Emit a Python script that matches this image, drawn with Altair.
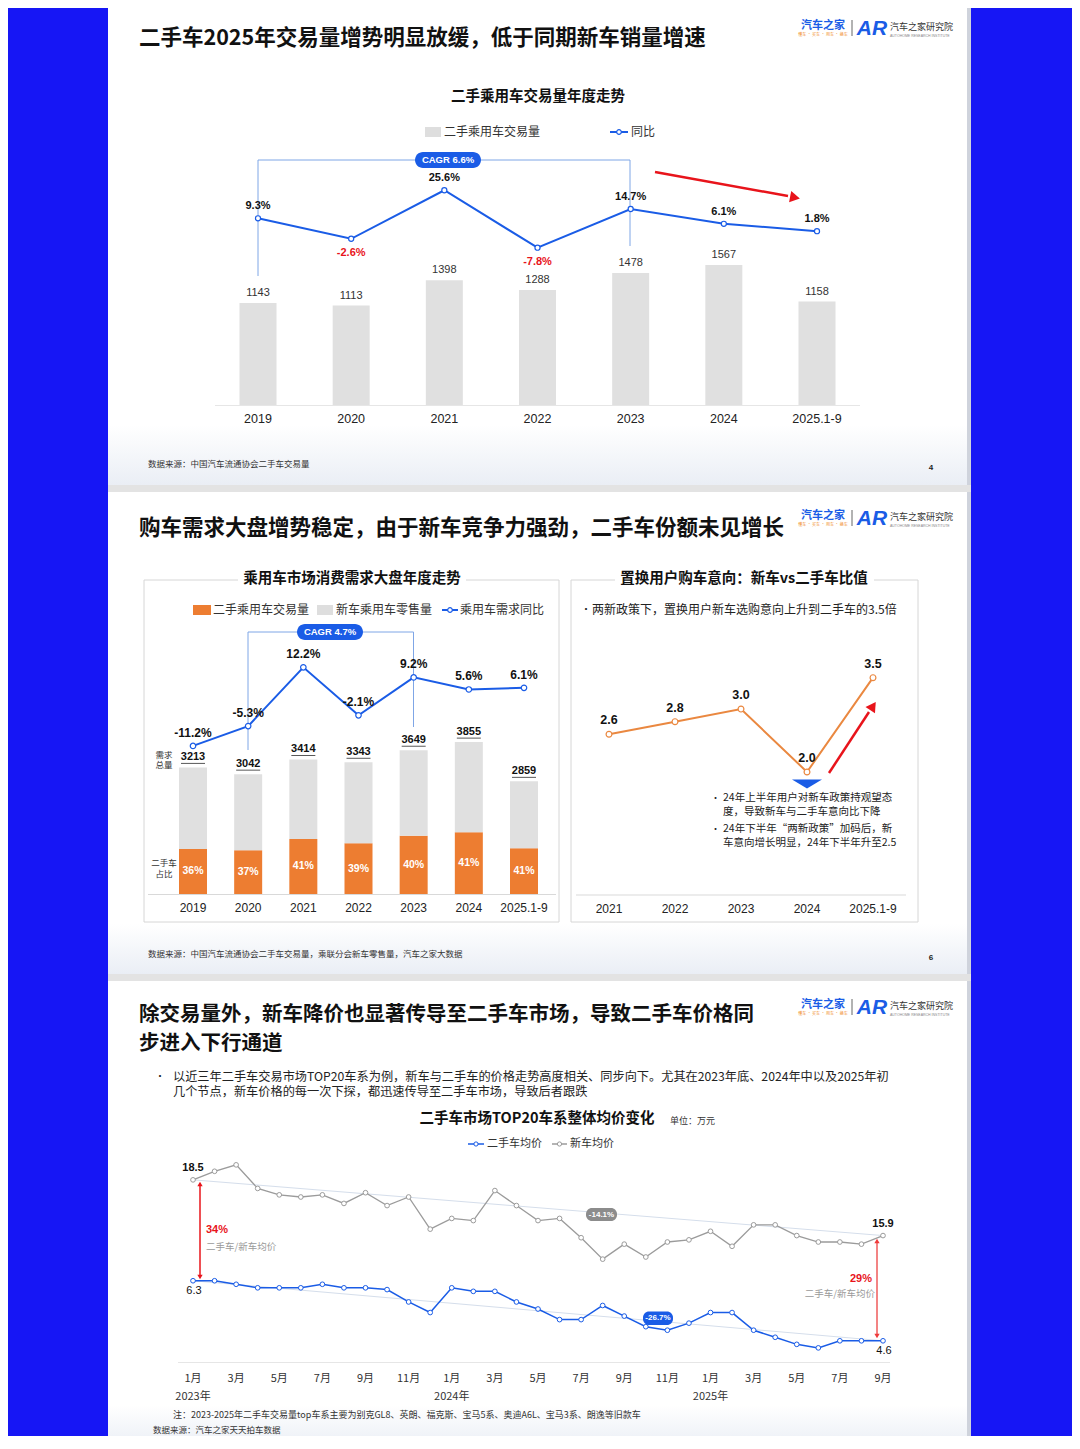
import altair as alt
import pandas as pd

# ---------------- data ----------------
years_a = ["2019", "2020", "2021", "2022", "2023", "2024", "2025.1-9"]
used_volume = [1143, 1113, 1398, 1288, 1478, 1567, 1158]
used_yoy = [9.3, -2.6, 25.6, -7.8, 14.7, 6.1, 1.8]

total_demand = [3213, 3042, 3414, 3343, 3649, 3855, 2859]
new_retail = [2070, 1929, 2016, 2055, 2171, 2288, 1701]
used_share_label = ["36%", "37%", "41%", "39%", "40%", "41%", "41%"]
demand_yoy = [-11.2, -5.3, 12.2, -2.1, 9.2, 5.6, 6.1]

years_b = ["2021", "2022", "2023", "2024", "2025.1-9"]
new_vs_used_ratio = [2.6, 2.8, 3.0, 2.0, 3.5]

months = ["2023-01", "2023-02", "2023-03", "2023-04", "2023-05", "2023-06",
          "2023-07", "2023-08", "2023-09", "2023-10", "2023-11", "2023-12",
          "2024-01", "2024-02", "2024-03", "2024-04", "2024-05", "2024-06",
          "2024-07", "2024-08", "2024-09", "2024-10", "2024-11", "2024-12",
          "2025-01", "2025-02", "2025-03", "2025-04", "2025-05", "2025-06",
          "2025-07", "2025-08", "2025-09"]
used_price = [6.3, 6.3, 6.2, 6.1, 6.1, 6.1, 6.2, 6.1, 6.1, 6.05, 5.7, 5.4,
              6.1, 6.0, 6.0, 5.7, 5.5, 5.2, 5.2, 5.6, 5.3, 5.0, 4.9, 5.1,
              5.4, 5.4, 4.9, 4.7, 4.5, 4.4, 4.6, 4.6, 4.6]
new_price = [18.5, 18.9, 19.2, 18.1, 17.8, 17.7, 17.8, 17.4, 17.9, 17.3, 17.7, 16.2,
             16.7, 16.6, 18.0, 17.3, 16.6, 16.7, 15.8, 14.8, 15.5, 14.9, 15.6, 15.7,
             16.1, 15.4, 16.4, 16.4, 15.9, 15.6, 15.6, 15.5, 15.9]

# ---------------- style ----------------
W, H = 1064, 1428
OFF = 8
BG = "#1616f5"
BLUE = "#1a5ce6"
ORANGE = "#ed7d31"
LINE_OR = "#ea8840"
GRAY_BAR = "#e0e0e0"
RED = "#e8141b"
F_CN = "Noto Sans CJK SC"
F_NUM = "Liberation Sans"
PCT = "(datum.v < 0 ? '-' : '') + format(abs(datum.v), '.1f') + '%'"


def X(v):
    return v - OFF


def Y(v):
    return v - OFF


ONE = pd.DataFrame({"k": [0]})
layers = []


def add(c):
    layers.append(c)


def box(x1, y1, x2, y2, **kw):
    add(alt.Chart(ONE).mark_rect(**kw).encode(
        x=alt.value(X(x1)), x2=alt.value(X(x2)), y=alt.value(Y(y1)), y2=alt.value(Y(y2))))


def seg(x1, y1, x2, y2, color, width=1.0, **kw):
    add(alt.Chart(ONE).mark_rule(color=color, strokeWidth=width, **kw).encode(
        x=alt.value(X(x1)), y=alt.value(Y(y1)), x2=alt.value(X(x2)), y2=alt.value(Y(y2))))


def label(x, y, s, size=12, color="#222222", weight="normal", align="left", font=F_CN,
          baseline="middle", **kw):
    add(alt.Chart(ONE).mark_text(text=s, fontSize=size, color=color, fontWeight=weight,
                                 align=align, baseline=baseline, font=font, **kw).encode(
        x=alt.value(X(x)), y=alt.value(Y(y))))


def symbol(x, y, shape, size, angle=0, **kw):
    add(alt.Chart(ONE).mark_point(shape=shape, size=size, angle=angle, opacity=1, **kw).encode(
        x=alt.value(X(x)), y=alt.value(Y(y))))


def band(domain, c0, c1, bw):
    n = len(domain)
    step = (c1 - c0) / (n - 1)
    pi = 1 - bw / step
    return alt.Scale(type="band", domain=domain, range=[X(c0 - step / 2), X(c1 + step / 2)],
                     paddingInner=pi, paddingOuter=pi / 2)


def logo(y0):
    label(823, y0 - 2, "汽车之家", size=11, color=BLUE, weight="bold", align="center")
    label(823, y0 + 7, "懂车 · 买车 · 用车 · 换车", size=4, color="#f08a24", align="center")
    seg(852, y0 - 8, 852, y0 + 8, "#666666", 1)
    label(872, y0 + 1, "AR", size=21, color=BLUE, weight="bold", align="center",
          font=F_NUM, fontStyle="italic")
    label(890, y0 - 1, "汽车之家研究院", size=9, color="#333333")
    label(890, y0 + 8, "AUTOHOME RESEARCH INSTITUTE", size=3.5, color="#888888", font=F_NUM)


footer_grad = alt.LinearGradient(gradient="linear",
                                 stops=[alt.GradientStop(color="#ffffff", offset=0),
                                        alt.GradientStop(color="#eaeef5", offset=1)],
                                 x1=0, x2=0, y1=0, y2=1)

# ---------------- slide backgrounds ----------------
for top, bottom in [(0, 485), (492, 974), (981, 1449)]:
    box(108, top, 967, bottom, fill="#ffffff")
    box(967, top, 971, bottom, fill="#cfd3dc")
box(108, 0, 967, 2, fill="#d0d0d0")
box(108, 485, 971, 492, fill="#e3e3e3")
box(108, 974, 971, 981, fill="#e3e3e3")
box(108, 425, 967, 485, fill=footer_grad)
box(108, 924, 967, 974, fill=footer_grad)
box(108, 1405, 967, 1449, fill=footer_grad)

# ================= slide 1 =================
label(139, 39, "二手车2025年交易量增势明显放缓，低于同期新车销量增速", size=21.5, weight="bold", color="#111111")
logo(28)
label(538, 97, "二手乘用车交易量年度走势", size=14.5, weight="bold", align="center", color="#111111")
box(425, 127, 441, 137, fill="#dedede")
label(444, 132, "二手乘用车交易量", size=12, color="#333333")
seg(610, 132, 628, 132, BLUE, 2)
symbol(619, 132, "circle", 22, filled=True, fill="white", stroke=BLUE, strokeWidth=1.2)
label(631, 132, "同比", size=12, color="#333333")

df1 = pd.DataFrame({"year": years_a, "vol": used_volume, "yoy": used_yoy})
xs1 = band(years_a, 258, 817, 37)
ys1 = alt.Scale(domain=[0, 2000], range=[Y(405), Y(405 - 2000 * 0.0893)], nice=False, zero=False)
yl1 = alt.Scale(domain=[-10, 30], range=[Y(251.5), Y(182.7)], nice=False, zero=False)
xe1 = alt.X("year:N", scale=xs1, axis=None)
c1 = alt.Chart(df1)

seg(215, 405.5, 860, 405.5, "#e6e6e6", 1)
add(c1.mark_bar(color=GRAY_BAR).transform_calculate(base="0").encode(
    x=xe1, y=alt.Y("vol:Q", scale=ys1, axis=None), y2="base:Q"))
add(c1.mark_text(dy=-10, fontSize=11, color="#333333", font=F_NUM).encode(
    x=xe1, y=alt.Y("vol:Q", scale=ys1, axis=None), text="vol:Q"))
add(c1.mark_text(fontSize=12.5, color="#222222", font=F_NUM, baseline="middle").encode(
    x=xe1, y=alt.value(Y(419)), text="year:N"))

# CAGR bracket
seg(258, 160, 258, 276, "#7fa6e6", 1)
seg(258, 160, 630, 160, "#7fa6e6", 1)
seg(630, 160, 630, 246, "#7fa6e6", 1)
box(415, 152, 481, 168, fill=BLUE, cornerRadius=8)
label(448, 160, "CAGR 6.6%", size=9.5, color="white", weight="bold", align="center", font=F_NUM)

add(c1.mark_line(color=BLUE, strokeWidth=2).encode(x=xe1, y=alt.Y("yoy:Q", scale=yl1, axis=None)))
add(c1.mark_point(filled=True, fill="white", stroke=BLUE, strokeWidth=1.2, size=26, opacity=1).encode(
    x=xe1, y=alt.Y("yoy:Q", scale=yl1, axis=None)))
add(c1.transform_filter("datum.yoy >= 0").transform_calculate(v="datum.yoy").transform_calculate(lbl=PCT)
    .mark_text(dy=-12, fontSize=11, fontWeight="bold", color="#111111", font=F_NUM).encode(
    x=xe1, y=alt.Y("yoy:Q", scale=yl1, axis=None), text="lbl:N"))
add(c1.transform_filter("datum.yoy < 0").transform_calculate(v="datum.yoy").transform_calculate(lbl=PCT)
    .mark_text(dy=14, fontSize=11, fontWeight="bold", color=RED, font=F_NUM).encode(
    x=xe1, y=alt.Y("yoy:Q", scale=yl1, axis=None), text="lbl:N"))

# red arrow
seg(655, 172, 788, 196, RED, 2.5)
symbol(795, 197.5, "triangle-right", 130, angle=11, filled=True, color=RED)

label(148, 464, "数据来源：中国汽车流通协会二手车交易量", size=8.5, color="#333333")
label(931, 468, "4", size=8, weight="bold", align="center", font=F_NUM)

# ================= slide 2 =================
label(139, 529, "购车需求大盘增势稳定，由于新车竞争力强劲，二手车份额未见增长", size=21.5, weight="bold", color="#111111")
logo(518)

# left panel
box(144, 580, 559, 922, fillOpacity=0, stroke="#d6d6d6", strokeWidth=1)
box(238, 572, 466, 588, fill="white")
label(352, 579, "乘用车市场消费需求大盘年度走势", size=14.5, weight="bold", align="center", color="#111111")
box(193, 605, 211, 615, fill=ORANGE)
label(213, 610, "二手乘用车交易量", size=12, color="#333333")
box(317, 605, 333, 615, fill="#dedede")
label(336, 610, "新车乘用车零售量", size=12, color="#333333")
seg(442, 610, 458, 610, BLUE, 2)
symbol(450, 610, "circle", 22, filled=True, fill="white", stroke=BLUE, strokeWidth=1.2)
label(460, 610, "乘用车需求同比", size=12, color="#333333")

df2 = pd.DataFrame({"year": years_a, "total": total_demand, "new": new_retail,
                    "used": used_volume, "share": used_share_label, "yoy": demand_yoy})
xs2 = band(years_a, 193, 524, 28)
ys2 = alt.Scale(domain=[0, 4000], range=[Y(894), Y(894 - 4000 * 0.0394)], nice=False, zero=False)
yl2 = alt.Scale(domain=[-15, 15], range=[Y(758.7), Y(657.9)], nice=False, zero=False)
xe2 = alt.X("year:N", scale=xs2, axis=None)
c2 = alt.Chart(df2)

add(c2.mark_bar(color=ORANGE).transform_calculate(base="0").encode(
    x=xe2, y=alt.Y("used:Q", scale=ys2, axis=None), y2="base:Q"))
add(c2.mark_bar(color=GRAY_BAR).encode(
    x=xe2, y=alt.Y("used:Q", scale=ys2, axis=None), y2="total:Q"))
add(c2.transform_calculate(mid="datum.used / 2").mark_text(
    fontSize=10.5, fontWeight="bold", color="white", font=F_NUM, baseline="middle").encode(
    x=xe2, y=alt.Y("mid:Q", scale=ys2, axis=None), text="share:N"))
add(c2.mark_text(dy=-10, fontSize=11, fontWeight="bold", color="#111111", font=F_NUM,
                 baseline="middle").encode(
    x=xe2, y=alt.Y("total:Q", scale=ys2, axis=None), text="total:Q"))
add(c2.mark_tick(orient="horizontal", size=24, thickness=1, yOffset=-4, color="#111111").encode(
    x=xe2, y=alt.Y("total:Q", scale=ys2, axis=None)))
seg(148, 894.5, 556, 894.5, "#d9d9d9", 1)
add(c2.mark_text(fontSize=12, color="#222222", font=F_NUM, baseline="middle").encode(
    x=xe2, y=alt.value(Y(908)), text="year:N"))
label(164, 755, "需求", size=8.5, color="#333333", align="center")
label(164, 765, "总量", size=8.5, color="#333333", align="center")
label(164, 863, "二手车", size=8.5, color="#333333", align="center")
label(164, 874, "占比", size=8.5, color="#333333", align="center")

seg(248, 632, 248, 750, "#7fa6e6", 1)
seg(248, 632, 413.5, 632, "#7fa6e6", 1)
seg(413.5, 632, 413.5, 727, "#7fa6e6", 1)
box(297, 624, 363, 640, fill=BLUE, cornerRadius=8)
label(330, 632, "CAGR 4.7%", size=9.5, color="white", weight="bold", align="center", font=F_NUM)

add(c2.mark_line(color=BLUE, strokeWidth=2).encode(x=xe2, y=alt.Y("yoy:Q", scale=yl2, axis=None)))
add(c2.mark_point(filled=True, fill="white", stroke=BLUE, strokeWidth=1.2, size=30, opacity=1).encode(
    x=xe2, y=alt.Y("yoy:Q", scale=yl2, axis=None)))
add(c2.transform_calculate(v="datum.yoy").transform_calculate(lbl=PCT).mark_text(
    dy=-13, fontSize=12, fontWeight="bold", color="#111111", font=F_NUM).encode(
    x=xe2, y=alt.Y("yoy:Q", scale=yl2, axis=None), text="lbl:N"))

# right panel
box(571, 580, 918, 922, fillOpacity=0, stroke="#d6d6d6", strokeWidth=1)
box(615, 572, 874, 588, fill="white")
label(744, 579, "置换用户购车意向：新车vs二手车比值", size=14.5, weight="bold", align="center", color="#111111")
label(581, 610, "•", size=10, color="#222222")
label(592, 610, "两新政策下，置换用户新车选购意向上升到二手车的3.5倍", size=12, color="#222222")

df3 = pd.DataFrame({"year": years_b, "ratio": new_vs_used_ratio})
xs3 = band(years_b, 609, 873, 30)
ys3 = alt.Scale(domain=[1.5, 4], range=[Y(803.4), Y(646.2)], nice=False, zero=False)
xe3 = alt.X("year:N", scale=xs3, axis=None)
c3 = alt.Chart(df3)

seg(576, 895, 906, 895, "#d9d9d9", 1)
add(c3.mark_text(fontSize=12, color="#222222", font=F_NUM, baseline="middle").encode(
    x=xe3, y=alt.value(Y(909)), text="year:N"))
add(c3.mark_line(color=LINE_OR, strokeWidth=2).encode(x=xe3, y=alt.Y("ratio:Q", scale=ys3, axis=None)))
add(c3.mark_point(filled=True, fill="white", stroke=LINE_OR, strokeWidth=1.2, size=34, opacity=1).encode(
    x=xe3, y=alt.Y("ratio:Q", scale=ys3, axis=None)))
add(c3.mark_text(dy=-14, fontSize=12.5, fontWeight="bold", color="#111111", font=F_NUM).encode(
    x=xe3, y=alt.Y("ratio:Q", scale=ys3, axis=None), text=alt.Text("ratio:Q", format=".1f")))

symbol(807, 784, "M -1 -0.3 L 1 -0.3 L 0 0.3 Z", 900, filled=True, color=BLUE)
seg(829, 773, 869, 712, RED, 2.5)
symbol(873, 706, "triangle-right", 130, angle=304, filled=True, color=RED)

label(711, 798, "•", size=9, color="#222222")
label(723, 798, "24年上半年用户对新车政策持观望态", size=10.5, color="#222222")
label(723, 812, "度，导致新车与二手车意向比下降", size=10.5, color="#222222")
label(711, 829, "•", size=9, color="#222222")
label(723, 829, "24年下半年“两新政策”加码后，新", size=10.5, color="#222222")
label(723, 843, "车意向增长明显，24年下半年升至2.5", size=10.5, color="#222222")

label(148, 954, "数据来源：中国汽车流通协会二手车交易量，乘联分会新车零售量，汽车之家大数据", size=8.5, color="#333333")
label(931, 958, "6", size=8, weight="bold", align="center", font=F_NUM)

# ================= slide 3 =================
label(139, 1005, ["除交易量外，新车降价也显著传导至二手车市场，导致二手车价格同", "步进入下行通道"],
      size=20.5, weight="bold", color="#111111", baseline="top", lineHeight=29)
logo(1007)
label(155, 1077, "•", size=10, color="#222222")
label(173, 1076.5, "以近三年二手车交易市场TOP20车系为例，新车与二手车的价格走势高度相关、同步向下。尤其在2023年底、2024年中以及2025年初",
      size=12.2, color="#222222")
label(173, 1092, "几个节点，新车价格的每一次下探，都迅速传导至二手车市场，导致后者跟跌", size=12.2, color="#222222")
label(537, 1119, "二手车市场TOP20车系整体均价变化", size=14.5, weight="bold", align="center", color="#111111")
label(670, 1121, "单位：万元", size=9, color="#333333")

seg(468, 1144, 484, 1144, BLUE, 1.5)
symbol(476, 1144, "circle", 18, filled=True, fill="white", stroke=BLUE, strokeWidth=1)
label(487, 1144, "二手车均价", size=11, color="#333333")
seg(552, 1144, 567, 1144, "#9b9b9b", 1.5)
symbol(559.5, 1144, "circle", 18, filled=True, fill="white", stroke="#9b9b9b", strokeWidth=1)
label(570, 1144, "新车均价", size=11, color="#333333")

df4 = pd.DataFrame({"month": months, "used": used_price, "new": new_price})
xs4 = alt.Scale(type="point", domain=months, range=[X(193), X(883)], padding=0)
yg4 = alt.Scale(domain=[10, 19.66], range=[Y(1362), Y(1155)], nice=False, zero=False)
yb4 = alt.Scale(domain=[4, 9.86], range=[Y(1362), Y(1155)], nice=False, zero=False)
xe4 = alt.X("month:N", scale=xs4, axis=None)
c4 = alt.Chart(df4)
ends = c4.transform_filter(alt.FieldOneOfPredicate(field="month", oneOf=[months[0], months[-1]]))

seg(178, 1362.5, 890, 1362.5, "#e6e6e6", 1)
add(ends.mark_line(color="#d5deeb", strokeWidth=1).encode(x=xe4, y=alt.Y("new:Q", scale=yg4, axis=None)))
add(ends.mark_line(color="#d5deeb", strokeWidth=1).encode(x=xe4, y=alt.Y("used:Q", scale=yb4, axis=None)))
add(c4.mark_line(color="#9b9b9b", strokeWidth=1.3).encode(x=xe4, y=alt.Y("new:Q", scale=yg4, axis=None)))
add(c4.mark_point(filled=True, fill="white", stroke="#9b9b9b", strokeWidth=1, size=22, opacity=1).encode(
    x=xe4, y=alt.Y("new:Q", scale=yg4, axis=None)))
add(c4.mark_line(color=BLUE, strokeWidth=1.5).encode(x=xe4, y=alt.Y("used:Q", scale=yb4, axis=None)))
add(c4.mark_point(filled=True, fill="white", stroke=BLUE, strokeWidth=1, size=22, opacity=1).encode(
    x=xe4, y=alt.Y("used:Q", scale=yb4, axis=None)))
add(ends.mark_text(dy=-12, fontSize=11, fontWeight="bold", color="#111111", font=F_NUM).encode(
    x=xe4, y=alt.Y("new:Q", scale=yg4, axis=None), text=alt.Text("new:Q", format=".1f")))
add(ends.mark_text(dy=10, dx=1, fontSize=11, color="#111111", font=F_NUM).encode(
    x=xe4, y=alt.Y("used:Q", scale=yb4, axis=None), text=alt.Text("used:Q", format=".1f")))

add(c4.transform_calculate(m="parseInt(substring(datum.month, 5))")
    .transform_filter("datum.m % 2 == 1")
    .transform_calculate(lbl="datum.m + '月'")
    .mark_text(fontSize=11, color="#333333", font=F_CN, baseline="middle").encode(
    x=xe4, y=alt.value(Y(1379)), text="lbl:N"))
add(c4.transform_filter("substring(datum.month, 5) == '01'")
    .transform_calculate(lbl="substring(datum.month, 0, 4) + '年'")
    .mark_text(fontSize=11, color="#333333", font=F_CN, baseline="middle").encode(
    x=xe4, y=alt.value(Y(1397)), text="lbl:N"))

# gap arrows and notes
seg(200, 1184, 200, 1277, RED, 1.5)
symbol(200, 1184, "triangle-up", 28, filled=True, color=RED)
symbol(200, 1277, "triangle-down", 28, filled=True, color=RED)
label(206, 1230, "34%", size=11, weight="bold", color=RED, font=F_NUM)
label(206, 1247, "二手车/新车均价", size=9.5, color="#9a9a9a")
seg(877, 1241, 877, 1336, "#ef5b5b", 1.5)
symbol(877, 1241, "triangle-up", 28, filled=True, color="#ef3b3b")
symbol(877, 1336, "triangle-down", 28, filled=True, color="#ef3b3b")
label(861, 1279, "29%", size=11, weight="bold", color=RED, align="center", font=F_NUM)
label(875, 1294, "二手车/新车均价", size=9.5, color="#9a9a9a", align="right")

box(586, 1208, 617, 1221, fill="#8c8c8c", cornerRadius=6)
label(601.5, 1214.5, "-14.1%", size=8, weight="bold", color="white", align="center", font=F_NUM)
box(643, 1311.5, 673, 1325, fill=BLUE, cornerRadius=6)
label(658, 1318.3, "-26.7%", size=8, weight="bold", color="white", align="center", font=F_NUM)

label(173, 1415, "注：2023-2025年二手车交易量top车系主要为别克GL8、英朗、福克斯、宝马5系、奥迪A6L、宝马3系、朗逸等旧款车",
      size=9, color="#333333")
label(153, 1430, "数据来源：汽车之家天天拍车数据", size=8.5, color="#333333")

chart = alt.layer(*layers).resolve_scale(x="independent", y="independent").properties(
    width=W, height=H, padding=0, autosize=alt.AutoSizeParams(type="none"), background=BG
).configure_view(stroke=None)

chart.save("out.html", embed_options={"renderer": "svg", "actions": False})
